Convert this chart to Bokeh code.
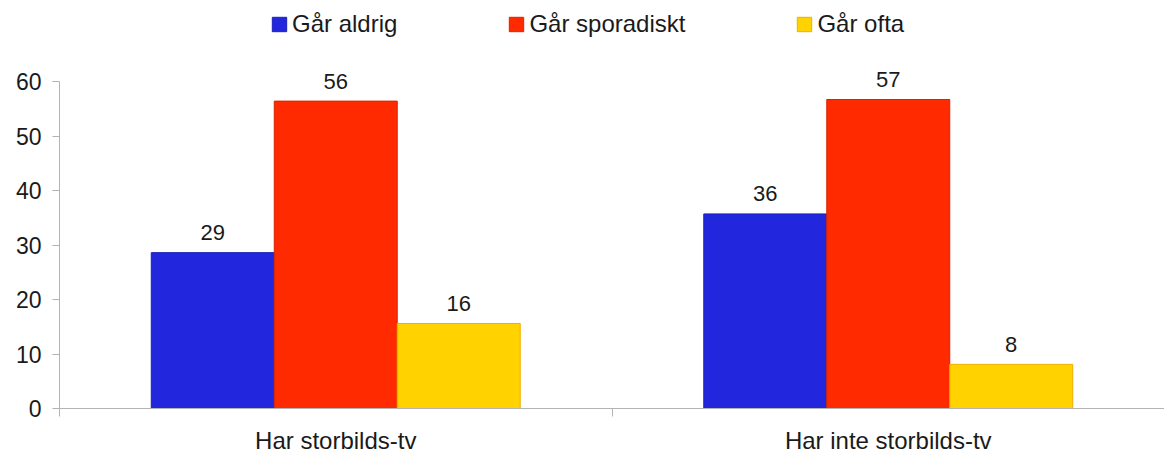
from bokeh.plotting import figure
from bokeh.models import ColumnDataSource, Range1d, Legend, LegendItem, FixedTicker
from bokeh.transform import dodge
from bokeh.core.properties import value
from bokeh.embed import file_html
from bokeh.resources import INLINE
import numpy as np

# ---- data ----
categories = ["Har storbilds-tv", "Har inte storbilds-tv"]
series = ["Går aldrig", "Går sporadiskt", "Går ofta"]
gar_aldrig = [28.6, 35.7]
gar_sporadiskt = [56.4, 56.7]
gar_ofta = [15.6, 8.1]
y_ticks = [0, 10, 20, 30, 40, 50, 60]

# ---- styles ----
fill_colors = ["#2227DE", "#FF2A00", "#FFD200"]
line_colors = ["#1B20B8", "#D82400", "#F0AE00"]
FONT = "Liberation Sans"
TEXT = "#1a1a1a"
AXIS = "#b3b3b3"
BAR_W = 0.2226

# frame spans the full height above the x axis; the y axis line is bounded to 0..60,
# leaving room at the top of the frame for the legend
Y_MAX = 60 * 408 / 327

p = figure(width=1164, height=458, output_backend="svg", toolbar_location=None, tools="",
           x_range=Range1d(0, 2), y_range=Range1d(0, Y_MAX),
           min_border_left=59, min_border_right=0, min_border_top=0, min_border_bottom=50)
p.outline_line_color = None
p.xgrid.visible = False
p.ygrid.visible = False
p.background_fill_color = "white"

centers = (np.arange(len(categories)) + 0.5).tolist()
bounds = list(range(len(categories) + 1))

# x axis: labels at category centers, small ticks at category boundaries
xa = p.xaxis[0]
xa.ticker = FixedTicker(ticks=centers, minor_ticks=bounds)
xa.major_label_overrides = {c: lab for c, lab in zip(centers, categories)}
xa.major_tick_out = 0
xa.major_tick_in = 0
xa.minor_tick_out = 8
xa.minor_tick_in = 0
xa.minor_tick_line_color = AXIS
xa.axis_line_color = AXIS
xa.major_label_standoff = 10
xa.major_label_text_font = FONT
xa.major_label_text_font_size = "24px"
xa.major_label_text_color = TEXT

ya = p.yaxis[0]
ya.ticker = FixedTicker(ticks=y_ticks)
ya.bounds = (min(y_ticks), max(y_ticks))
ya.major_tick_out = 7
ya.major_tick_in = 0
ya.minor_tick_out = 0
ya.minor_tick_in = 0
ya.major_tick_line_color = AXIS
ya.axis_line_color = AXIS
ya.major_label_standoff = 11
ya.major_label_text_font = FONT
ya.major_label_text_font_size = "23px"
ya.major_label_text_color = TEXT

items = []
for i, (name, vals) in enumerate(zip(series, [gar_aldrig, gar_sporadiskt, gar_ofta])):
    src = ColumnDataSource(dict(x=centers, y=vals, label=[f"{round(v)}" for v in vals]))
    off = (i - 1) * BAR_W
    r = p.vbar(x=dodge("x", off, range=p.x_range), top="y", width=BAR_W, bottom=0,
               source=src, fill_color=fill_colors[i], line_color=line_colors[i], line_width=1)
    p.text(x=dodge("x", off, range=p.x_range), y="y", text="label", source=src,
           text_align="center", text_baseline="alphabetic", y_offset=-20,
           text_font=value(FONT), text_font_size="22px", text_color=TEXT)
    items.append(LegendItem(label=name, renderers=[r]))

legend = Legend(items=items, orientation="horizontal", location=(211, 370),
                padding=0, margin=0, spacing=110, glyph_width=18, glyph_height=18,
                label_standoff=4, label_text_font=FONT, label_text_font_size="24px",
                label_text_color=TEXT, border_line_alpha=0, background_fill_alpha=0)
p.add_layout(legend, "center")

open("out.html", "w").write(file_html(p, INLINE))
